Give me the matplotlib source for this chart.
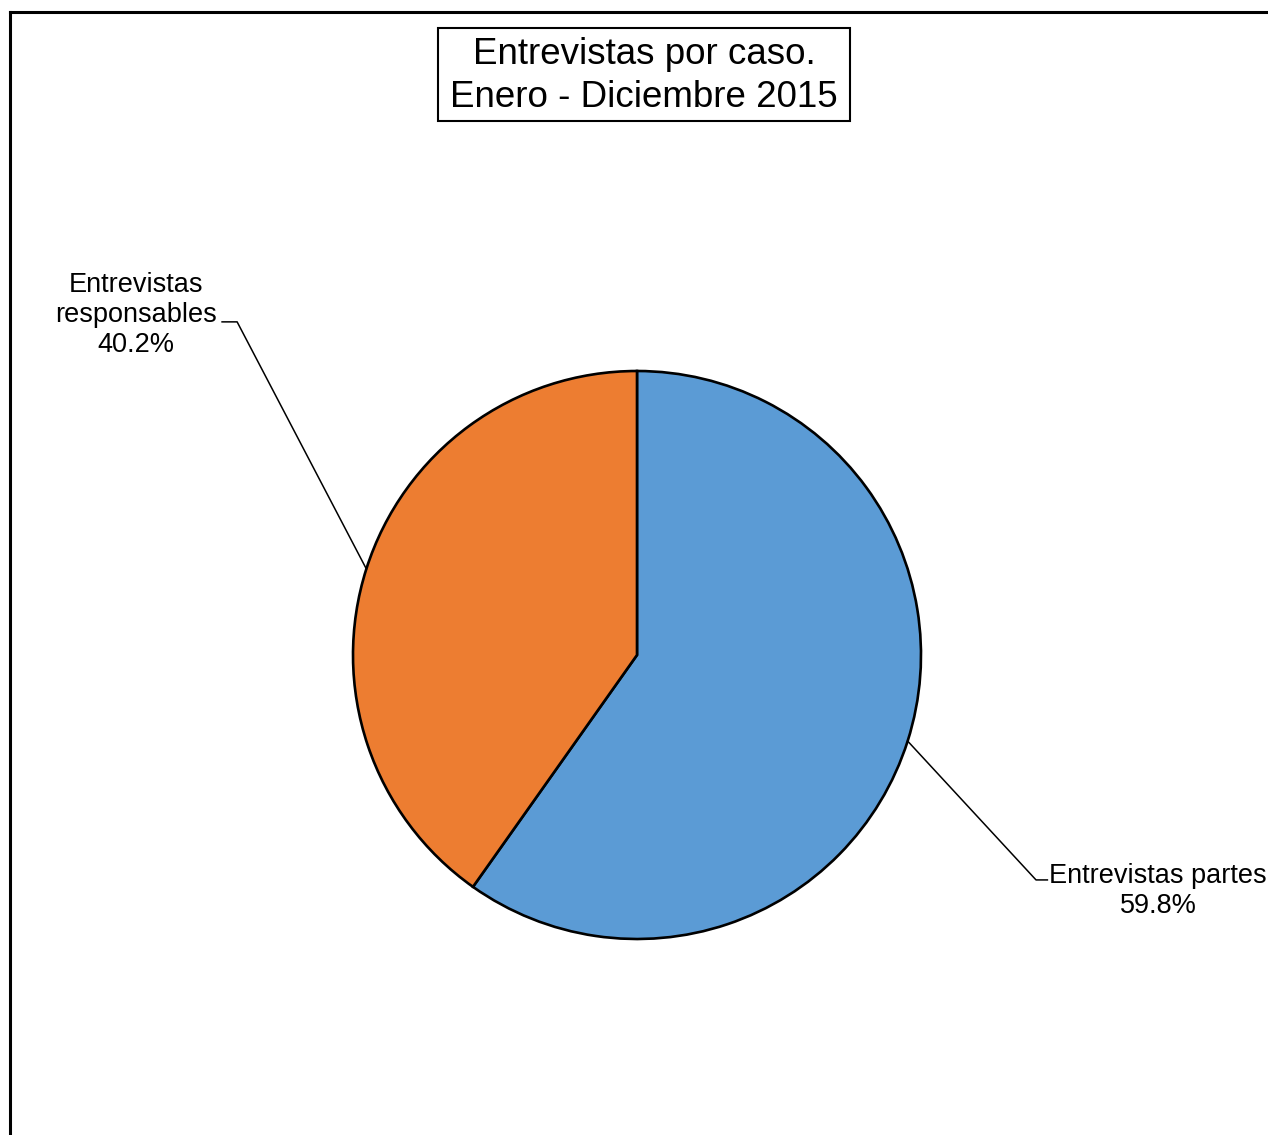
import matplotlib.pyplot as plt
import numpy as np
from matplotlib.lines import Line2D
from matplotlib.patches import Rectangle

plt.rcParams['font.family'] = ['Liberation Sans', 'DejaVu Sans']

categories = ['Entrevistas partes', 'Entrevistas responsables']
shares = [59.8, 40.2]
colors = ['#5B9BD5', '#ED7D31']
title = 'Entrevistas por caso.\nEnero - Diciembre 2015'

W, H = 1268, 1135
fig = plt.figure(figsize=(W / 100, H / 100), dpi=100)

# pie axes: centre (637, 655) px, radius 284 px
cx, cy, r = 637, 655, 284
ax = fig.add_axes([(cx - r) / W, (H - cy - r) / H, 2 * r / W, 2 * r / H])
wedges, _ = ax.pie(shares, colors=colors, startangle=90, counterclock=False,
                   radius=1, wedgeprops=dict(edgecolor='black', linewidth=1.9))
ax.set_xlim(-1, 1)
ax.set_ylim(-1, 1)
ax.set_aspect('equal')
ax.axis('off')

# labels with elbow leader lines
label_layout = [
    dict(text_xy=(1.835, -0.830), elbow=(1.405, -0.792), end=(1.445, -0.792)),
    dict(text_xy=(-1.764, 1.197), elbow=(-1.408, 1.173), end=(-1.461, 1.173)),
]
for w, name, val, lay in zip(wedges, categories, shares, label_layout):
    mid = np.deg2rad((w.theta1 + w.theta2) / 2)
    px, py = np.cos(mid), np.sin(mid)
    ex, ey = lay['elbow']
    hx, hy = lay['end']
    ax.plot([px, ex, hx], [py, ey, hy], color='black', lw=1.1, clip_on=False)
    txt = name.replace(' ', '\n') if 'responsables' in name else name
    ax.text(lay['text_xy'][0], lay['text_xy'][1], f'{txt}\n{val:.1f}%',
            ha='center', va='center', fontsize=19.5, linespacing=1.22,
            clip_on=False)

# title box
fig.add_artist(Rectangle((438 / W, 1 - 121 / H), 412 / W, 93 / H,
                         transform=fig.transFigure, facecolor='white',
                         edgecolor='black', lw=1.5))
fig.text(644 / W, 1 - 76 / H, title, ha='center', va='center',
         fontsize=26.5, linespacing=1.27)

# outer frame (left and top)
fig.add_artist(Line2D([10 / W, 10 / W], [0, 1 - 12 / H], color='black', lw=2.2,
                      transform=fig.transFigure))
fig.add_artist(Line2D([10 / W, 1], [1 - 12 / H, 1 - 12 / H], color='black', lw=2.2,
                      transform=fig.transFigure))

plt.savefig('out.png', dpi=100)
